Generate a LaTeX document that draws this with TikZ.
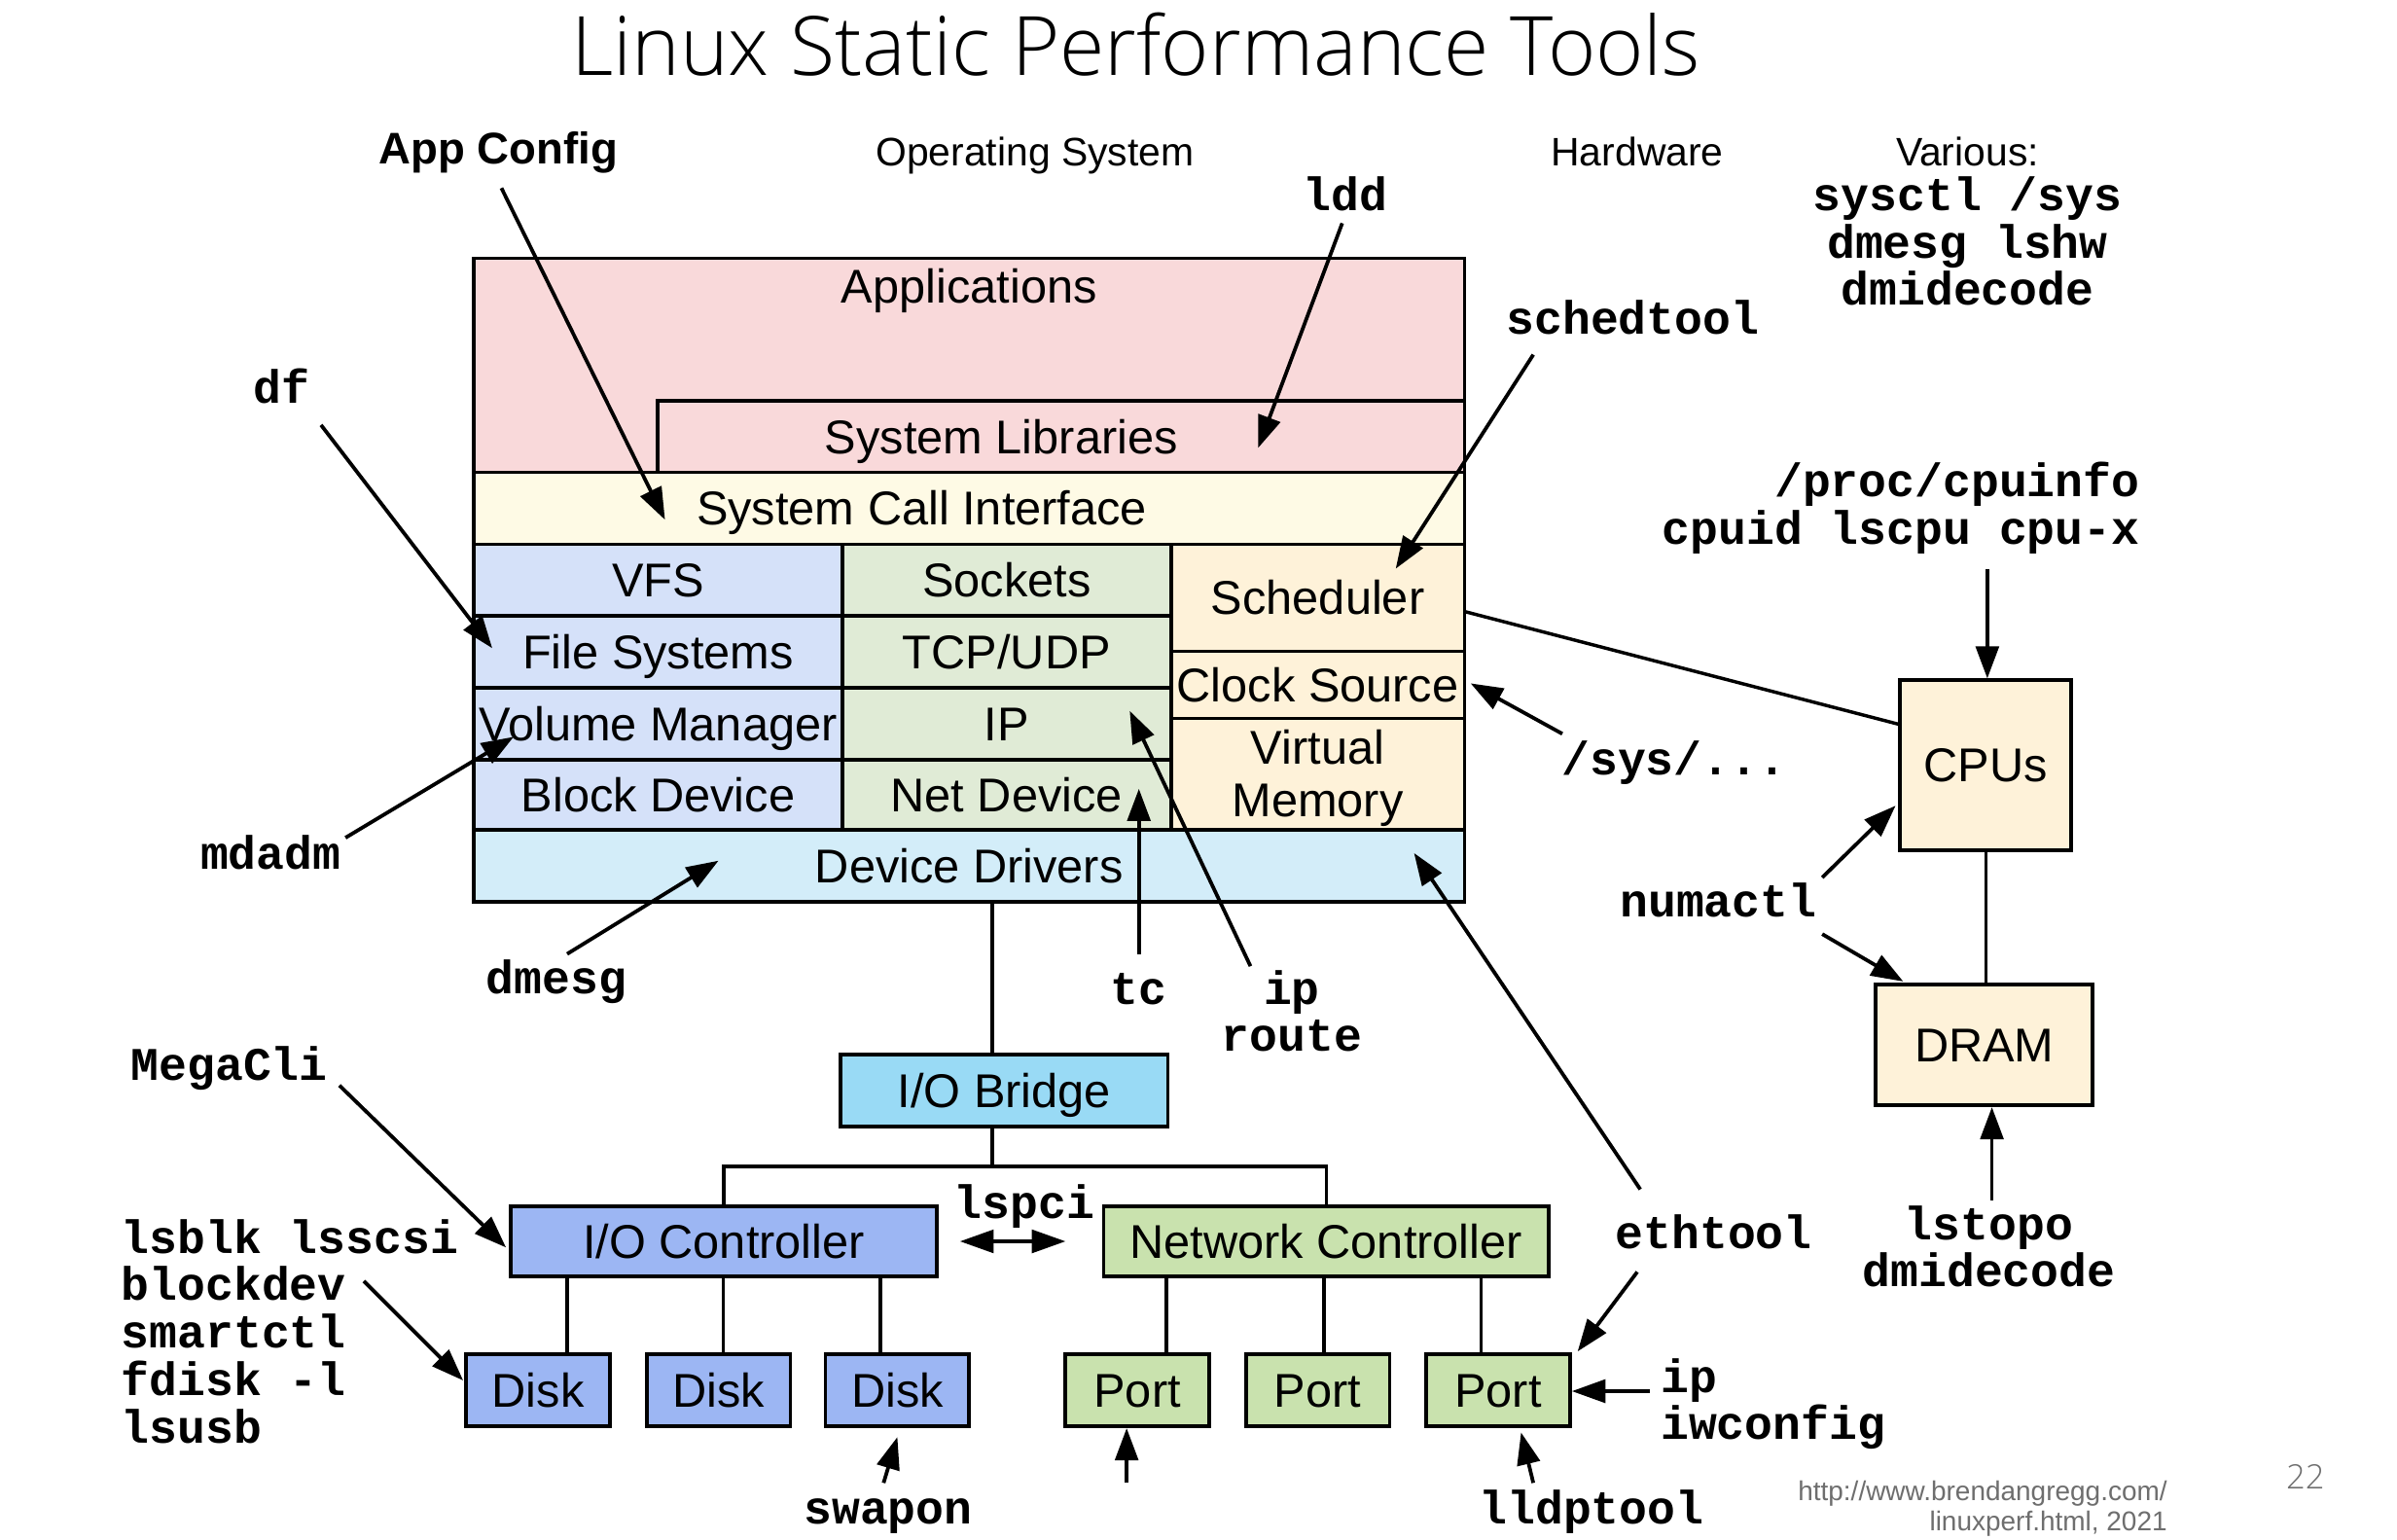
\documentclass[tikz,border=0pt]{standalone}
\usepackage{fontspec}
\setmainfont{Liberation Sans}
\newfontfamily\mono{Liberation Mono}
\newfontfamily\titlefont{Open Sans Light}
\usetikzlibrary{arrows.meta,fit}

\definecolor{appc}{RGB}{249,217,218}
\definecolor{sysc}{RGB}{254,250,229}
\definecolor{vfsc}{RGB}{213,225,249}
\definecolor{netc}{RGB}{224,235,214}
\definecolor{schc}{RGB}{254,242,217}
\definecolor{ddc}{RGB}{211,237,249}
\definecolor{iobc}{RGB}{153,218,245}
\definecolor{iocc}{RGB}{156,182,243}
\definecolor{ncc}{RGB}{201,226,174}
\definecolor{footc}{RGB}{110,110,110}

\tikzset{
 cell/.style={draw=black, line width=1.2pt, inner sep=0pt},
 lbl/.style={inner sep=0pt, font=\fontsize{15.5}{17}\selectfont, text height=11.1pt, text depth=0pt},
 tool/.style={font=\mono\bfseries\fontsize{15.3}{15.5}\selectfont, inner sep=0pt, text height=9.8pt, text depth=0pt},
 head/.style={font=\fontsize{13}{15}\selectfont, inner sep=0pt, text height=9.3pt, text depth=0pt},
 titlestyle/.style={font=\titlefont\fontsize{26.8}{30}\selectfont, inner sep=0pt, text height=19.1pt, text depth=0pt},
 foot/.style={font=\fontsize{8.9}{10}\selectfont, text=footc, inner sep=0pt, text height=6.4pt, text depth=0pt},
 arr/.style={line width=1.2pt, -{Triangle[length=10.5pt,width=7.5pt]}},
 thickarr/.style={line width=1.3pt, -{Triangle[length=11pt,width=7.5pt]}},
 dblarr/.style={line width=1.1pt, {Triangle[length=11pt,width=7.5pt]}-{Triangle[length=11pt,width=7.5pt]}},
 link/.style={line width=1.1pt},
}
% cell with a centred label: name, fill, fit corners, text
\newcommand\cellbox[4]{%
  \node[cell, fill=#2, fit=#3] (#1) {};
  \node[lbl] (#1t) at (#1.center) {#4};}

\begin{document}
\begin{tikzpicture}[x=0.5pt,y=-0.5pt]
\useasboundingbox (0,0) rectangle (1568,1007);

% headings
\node[titlestyle] (title) at (743,30) {Linux Static Performance Tools};
\node[head] (hos) at (677,99) {Operating System};
\node[head] (hhw) at (1071,99) {Hardware};
\node[head] (hvar) at (1287,99) {Various:};
\node[font=\bfseries\fontsize{14.5}{16}\selectfont, inner sep=0pt, text height=10.4pt, text depth=0pt] (appcfg) at (326,97) {App Config};

% OS stack
\node[cell, fill=appc, fit={(310,169) (958,309)}] (apps) {};
\node[lbl] (appst) at (634,187) {Applications};
\node[cell, fill=appc, fit={(430,262) (958,309)}] (slib) {};
\node[lbl] (slibt) at (655,286) {System Libraries};
\node[cell, fill=sysc, fit={(310,309) (958,356)}] (sci) {};
\node[lbl] (scit) at (603,332) {System Call Interface};
\cellbox{vfs}{vfsc}{{(310,356) (551,403)}}{VFS}
\cellbox{fs}{vfsc}{{(310,403) (551,450)}}{File Systems}
\cellbox{vm}{vfsc}{{(310,450) (551,497)}}{Volume Manager}
\cellbox{bd}{vfsc}{{(310,497) (551,543)}}{Block Device}
\cellbox{sock}{netc}{{(551,356) (766,403)}}{Sockets}
\cellbox{tcp}{netc}{{(551,403) (766,450)}}{TCP/UDP}
\cellbox{ipc}{netc}{{(551,450) (766,497)}}{IP}
\cellbox{nd}{netc}{{(551,497) (766,543)}}{Net Device}
\cellbox{sched}{schc}{{(766,356) (958,426)}}{Scheduler}
\cellbox{clk}{schc}{{(766,426) (958,470)}}{Clock Source}
\node[cell, fill=schc, fit={(766,470) (958,543)}] (vmem) {};
\node[lbl] (vmem1) at (862,489) {Virtual};
\node[lbl] (vmem2) at (862,523) {Memory};
\cellbox{dd}{ddc}{{(310,543) (958,590)}}{Device Drivers}

% I/O
\cellbox{iob}{iobc}{{(550,690) (764,737)}}{I/O Bridge}
\cellbox{ioc}{iocc}{{(334,789) (613,835)}}{I/O Controller}
\cellbox{nc}{ncc}{{(722,789) (1013,835)}}{Network Controller}
\cellbox{d1}{iocc}{{(305,886) (399,933)}}{Disk}
\cellbox{d2}{iocc}{{(423,886) (517,933)}}{Disk}
\cellbox{d3}{iocc}{{(540,886) (634,933)}}{Disk}
\cellbox{p1}{ncc}{{(697,886) (791,933)}}{Port}
\cellbox{p2}{ncc}{{(815,886) (909,933)}}{Port}
\cellbox{p3}{ncc}{{(933,886) (1027,933)}}{Port}

% hardware
\cellbox{cpu}{schc}{{(1243,445) (1355,556)}}{CPUs}
\cellbox{dram}{schc}{{(1227,644) (1369,723)}}{DRAM}

% tool labels
\node[tool] (tldd) at (880,128) {ldd};
\node[tool] (tvar1) at (1287,128) {sysctl /sys};
\node[tool] (tvar2) at (1287,159) {dmesg lshw};
\node[tool] (tvar3) at (1287,190) {dmidecode};
\node[tool] (tsched) at (1068,209) {schedtool};
\node[tool] (tdf) at (184,254) {df};
\node[tool, anchor=east] (tproc1) at (1400,315) {/proc/cpuinfo};
\node[tool, anchor=east] (tproc2) at (1400,346) {cpuid lscpu cpu-x};
\node[tool] (tsys) at (1095,497) {/sys/...};
\node[tool] (tmdadm) at (177,559) {mdadm};
\node[tool] (tnuma) at (1124,590) {numactl};
\node[tool] (tdmesg) at (364,640) {dmesg};
\node[tool] (ttc) at (745,647) {tc};
\node[tool] (tipr1) at (845,647) {ip};
\node[tool] (tipr2) at (845,678) {route};
\node[tool] (tmega) at (150,697) {MegaCli};
\node[tool] (tlspci) at (670,787) {lspci};
\node[tool] (tlstopo1) at (1301,801) {lstopo};
\node[tool] (tlstopo2) at (1301,832) {dmidecode};
\node[tool] (teth) at (1121,807) {ethtool};
\node[tool, anchor=west] (tblk1) at (79,810) {lsblk lsscsi};
\node[tool, anchor=west] (tblk2) at (79,841) {blockdev};
\node[tool, anchor=west] (tblk3) at (79,872) {smartctl};
\node[tool, anchor=west] (tblk4) at (79,903) {fdisk -l};
\node[tool, anchor=west] (tblk5) at (79,934) {lsusb};
\node[tool, anchor=west] (tipw1) at (1086,901) {ip};
\node[tool, anchor=west] (tipw2) at (1086,932) {iwconfig};
\node[tool] (tswap) at (581,987) {swapon};
\node[tool] (tlldp) at (1041,987) {lldptool};

% footer
\node[foot, anchor=east] (f1) at (1418,975) {http://www.brendangregg.com/};
\node[foot, anchor=east] (f2) at (1418,995) {linuxperf.html, 2021};
\node[font=\titlefont\fontsize{11}{12}\selectfont, text=footc, inner sep=0pt, text height=7.9pt, text depth=0pt] (pg) at (1508,966) {22};

% structural connectors
\coordinate (xa) at (649,0);
\coordinate (bus) at (649,763);
\draw[link] (dd.south -| xa) -- (iob.north -| xa);
\draw[link] (iob.south -| xa) -- (bus);
\draw[link] (ioc.north) |- (bus) -| (nc.north);
\coordinate (l1) at (371,0);
\coordinate (l2) at (473,0);
\coordinate (l3) at (576,0);
\coordinate (l4) at (763,0);
\coordinate (l5) at (866,0);
\coordinate (l6) at (969,0);
\draw[link] (ioc.south -| l1) -- (d1.north -| l1);
\draw[link] (ioc.south -| l2) -- (d2.north -| l2);
\draw[link] (ioc.south -| l3) -- (d3.north -| l3);
\draw[link] (nc.south -| l4) -- (p1.north -| l4);
\draw[link] (nc.south -| l5) -- (p2.north -| l5);
\draw[link] (nc.south -| l6) -- (p3.north -| l6);
\draw[link] (cpu.south) -- (cpu.south |- dram.north);
\coordinate (oscpu) at (958,400);
\coordinate (cpul) at (1243,474);
\draw[link] (oscpu) -- (cpul);

% tool arrows
\coordinate (a1s) at (328,123);  \coordinate (a1e) at (435,340);
\coordinate (a2s) at (878,146);  \coordinate (a2e) at (823,293);
\coordinate (a3s) at (1003,232); \coordinate (a3e) at (913,372);
\coordinate (a4s) at (210,278);  \coordinate (a4e) at (322,424);
\coordinate (a5s) at (226,548);  \coordinate (a5e) at (336,482);
\coordinate (a6s) at (371,624);  \coordinate (a6e) at (470,563);
\coordinate (a7s) at (745,624);  \coordinate (a7e) at (745,516);
\coordinate (a8s) at (818,632);  \coordinate (a8e) at (739,465);
\coordinate (a9s) at (1022,480); \coordinate (a9e) at (962,447);
\coordinate (a10s) at (1300,372);
\coordinate (a11s) at (1192,574); \coordinate (a11e) at (1240,527);
\coordinate (a12s) at (1192,611); \coordinate (a12e) at (1245,642);
\coordinate (a13s) at (1303,785);
\coordinate (a14s) at (1073,778); \coordinate (a14e) at (925,558);
\coordinate (a15s) at (1071,832); \coordinate (a15e) at (1032,884);
\coordinate (a16s) at (1079,910);
\coordinate (a17s) at (1003,970); \coordinate (a17e) at (995,937);
\coordinate (a18s) at (737,970);
\coordinate (a19s) at (578,970);  \coordinate (a19e) at (587,940);
\coordinate (a20s) at (222,710);  \coordinate (a20e) at (331,816);
\coordinate (a21s) at (238,838);  \coordinate (a21e) at (303,903);

\draw[arr] (a1s) -- (a1e);
\draw[arr] (a2s) -- (a2e);
\draw[arr] (a3s) -- (a3e);
\draw[arr] (a4s) -- (a4e);
\draw[arr] (a5s) -- (a5e);
\draw[arr] (a6s) -- (a6e);
\draw[arr] (a7s) -- (a7e);
\draw[arr] (a8s) -- (a8e);
\draw[arr] (a9s) -- (a9e);
\draw[arr] (a10s) -- (a10s |- cpu.north);
\draw[arr] (a11s) -- (a11e);
\draw[arr] (a12s) -- (a12e);
\draw[arr] (a13s) -- (a13s |- dram.south);
\draw[arr] (a14s) -- (a14e);
\draw[arr] (a15s) -- (a15e);
\draw[thickarr] (a16s) -- (a16s -| p3.east);
\draw[arr] (a17s) -- (a17e);
\draw[arr] (a18s) -- (a18s |- p1.south);
\draw[arr] (a19s) -- (a19e);
\draw[arr] (a20s) -- (a20e);
\draw[arr] (a21s) -- (a21e);
\coordinate (lsl) at (628,812);
\coordinate (lsr) at (697,812);
\draw[dblarr] (lsl) -- (lsr);
\end{tikzpicture}
\end{document}
